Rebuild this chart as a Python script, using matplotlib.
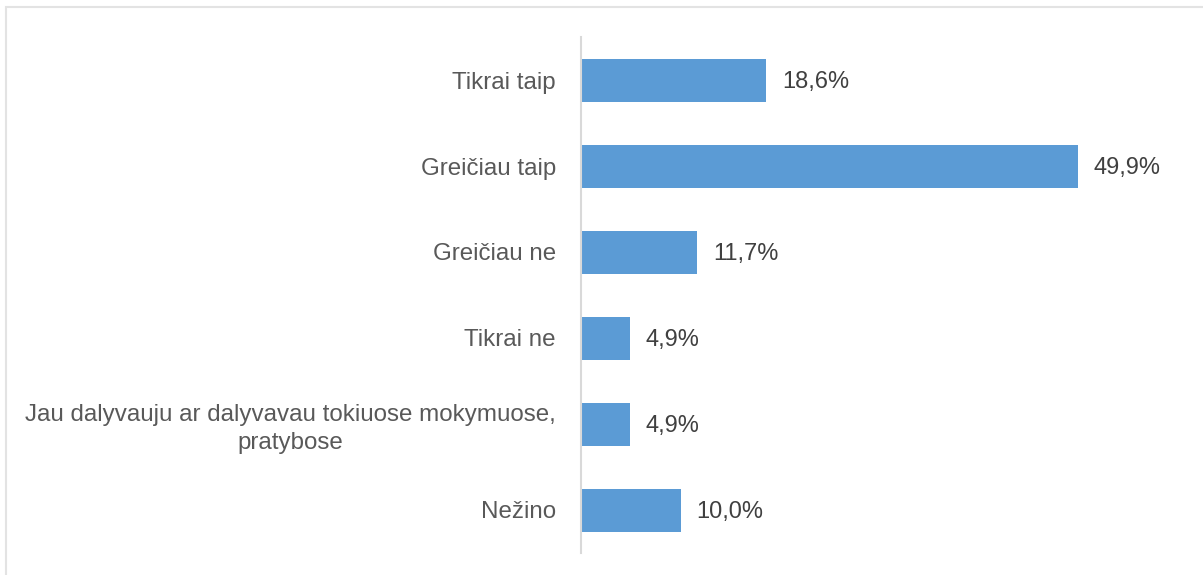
import matplotlib.pyplot as plt
from matplotlib.patches import Rectangle

categories = [
    "Tikrai taip",
    "Greičiau taip",
    "Greičiau ne",
    "Tikrai ne",
    "Jau dalyvauju ar dalyvavau tokiuose mokymuose,\npratybose",
    "Nežino",
]
values = [18.6, 49.9, 11.7, 4.9, 4.9, 10.0]

plt.rcParams['font.family'] = ['Liberation Sans', 'DejaVu Sans']

W, H = 1203, 575
fig = plt.figure(figsize=(W / 100, H / 100), dpi=100)

# light chart-area frame
fig.patches.append(Rectangle((6 / W, -0.1), 1.2, (H - 7) / H + 0.1,
                             transform=fig.transFigure, fill=False,
                             edgecolor='#E3E3E3', linewidth=1.5))

ax = fig.add_axes([581 / W, 1 - 553 / H, 600 / W, (553 - 37) / H])
y = list(range(len(categories)))
ax.barh(y, values, height=0.5, color='#5B9BD5')
ax.set_ylim(len(categories) - 0.5, -0.5)
ax.set_xlim(0, 60.3)

for yi, v in zip(y, values):
    ax.text(v + 1.6, yi + 0.02, f"{v:.1f}%".replace('.', ','), va='center',
            ha='left', fontsize=17, color='#404040')

ax.set_yticks(y)
ax.set_yticklabels(categories, fontsize=17.4, color='#595959', ha='right',
                   multialignment='center', linespacing=1.3)
ax.tick_params(axis='y', length=0, pad=18)
ax.set_xticks([])
for s in ['top', 'right', 'bottom']:
    ax.spines[s].set_visible(False)
ax.spines['left'].set_color('#D9D9D9')
ax.spines['left'].set_linewidth(1.5)

fig.savefig('out.png', dpi=100)
